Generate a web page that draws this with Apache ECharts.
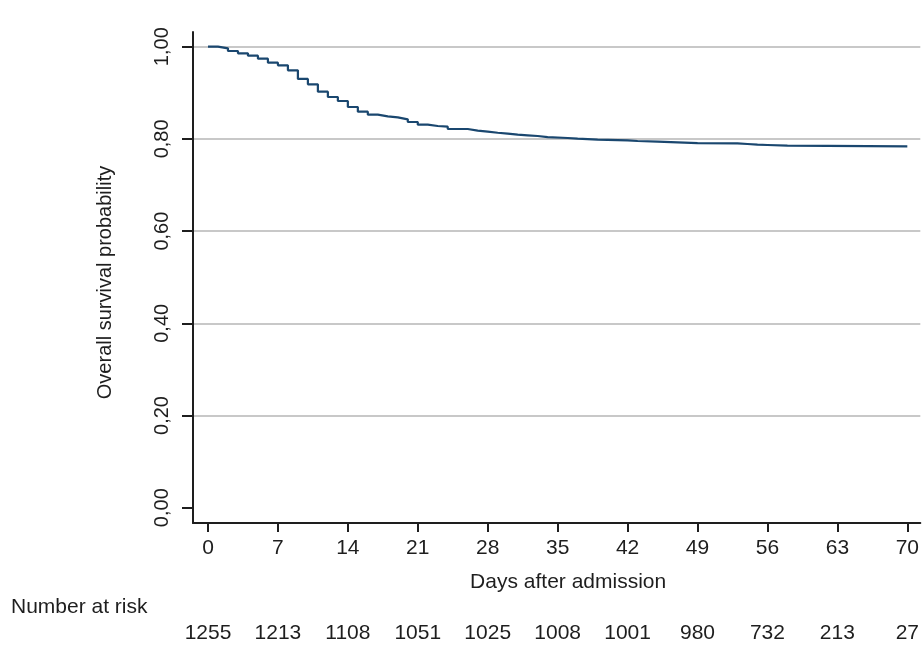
<!DOCTYPE html>
<html>
<head>
<meta charset="utf-8">
<script src="https://cdn.jsdelivr.net/npm/echarts@6/dist/echarts.min.js"></script>
<style>
html,body{margin:0;padding:0;background:#fff;}
#chart{width:922px;height:645px;}
</style>
</head>
<body>
<div id="chart"></div>
<script>
// Kaplan-Meier step points: day and survival probability after events that day
const days = [0,1,2,3,4,5,6,7,8,9,10,11,12,13,14,15,16,17,18,19,20,21,22,23,24,26,27,28,29,30,31,32,33,34,36,37,39,42,43,45,47,49,53,54,55,56,58,70];
const survival = [1.000,0.9965,0.9907,0.9857,0.9805,0.974,0.9653,0.9597,0.9488,0.930,0.9184,0.9024,0.8909,0.8822,0.8692,0.859,0.8525,0.849,0.8468,0.8425,0.8367,0.8308,0.828,0.8265,0.8215,0.8178,0.8156,0.8134,0.8113,0.8091,0.8077,0.8063,0.804,0.802,0.8004,0.7983,0.797,0.7955,0.794,0.7926,0.791,0.7905,0.789,0.7875,0.7868,0.7853,0.7839,0.7839];

const xTicks = [0,7,14,21,28,35,42,49,56,63,70];
const numberAtRisk = [1255,1213,1108,1051,1025,1008,1001,980,732,213,27];
const yTicks = [0,0.2,0.4,0.6,0.8,1.0];
const yGridValues = [0.2,0.4,0.6,0.8,1.0];

const FONT = 'Liberation Sans';
const TXT = '#1e1e1e';

const chart = echarts.init(document.getElementById('chart'));
const seriesData = days.map((d, i) => [d, survival[i]]);

chart.setOption({
  animation: false,
  backgroundColor: '#ffffff',
  textStyle: { fontFamily: FONT },
  title: {
    text: 'Number at risk',
    left: 11,
    top: 597,
    padding: 0,
    textStyle: { fontFamily: FONT, fontSize: 21, fontWeight: 'normal', color: TXT }
  },
  grid: { left: 193, right: 0, top: 32, bottom: 122 },
  xAxis: [
    {
      type: 'value',
      min: -1.5,
      max: 71.3,
      name: 'Days after admission',
      nameLocation: 'middle',
      nameGap: 49,
      nameTextStyle: { fontFamily: FONT, fontSize: 21, color: TXT, padding: [0, 0, 0, 23] },
      axisLine: { show: true, onZero: false, lineStyle: { color: '#1e1e1e', width: 2 } },
      axisTick: { show: true, customValues: xTicks, length: 9, lineStyle: { color: '#1e1e1e', width: 2 } },
      axisLabel: { customValues: xTicks, margin: 15, fontFamily: FONT, fontSize: 21, color: TXT },
      splitLine: { show: false }
    },
    {
      type: 'value',
      min: -1.5,
      max: 71.3,
      position: 'bottom',
      offset: 85,
      axisLine: { show: false },
      axisTick: { show: false, customValues: xTicks },
      axisLabel: {
        customValues: xTicks,
        margin: 15,
        fontFamily: FONT, fontSize: 21, color: TXT,
        formatter: v => { const i = xTicks.indexOf(Math.round(v)); return i >= 0 ? String(numberAtRisk[i]) : ''; }
      },
      splitLine: { show: false }
    }
  ],
  yAxis: [
    {
      type: 'value',
      min: -0.0332,
      max: 1.0319,
      name: 'Overall survival probability',
      nameLocation: 'middle',
      nameGap: 78,
      nameTextStyle: { fontFamily: FONT, fontSize: 20, color: TXT, padding: [0, 10, 0, 0] },
      axisLine: { show: true, onZero: false, lineStyle: { color: '#1e1e1e', width: 2 } },
      axisTick: { show: true, customValues: yTicks, length: 11, lineStyle: { color: '#1e1e1e', width: 2 } },
      axisLabel: {
        customValues: yTicks,
        rotate: 90,
        margin: 21,
        fontFamily: FONT, fontSize: 20, color: TXT,
        formatter: v => v.toFixed(2).replace('.', ',')
      },
      splitLine: { show: false }
    },
    {
      type: 'value',
      min: -0.0332,
      max: 1.0319,
      position: 'left',
      axisLine: { show: false },
      axisTick: { show: false, customValues: yGridValues },
      axisLabel: { show: false, customValues: yGridValues },
      splitLine: { show: true, lineStyle: { color: '#c8c8c8', width: 2 } }
    }
  ],
  series: [
    {
      type: 'line',
      step: 'end',
      xAxisIndex: 0,
      yAxisIndex: 0,
      data: seriesData,
      symbol: 'none',
      lineStyle: { color: '#1a476f', width: 2.2 },
      z: 5
    }
  ]
});
</script>
</body>
</html>
